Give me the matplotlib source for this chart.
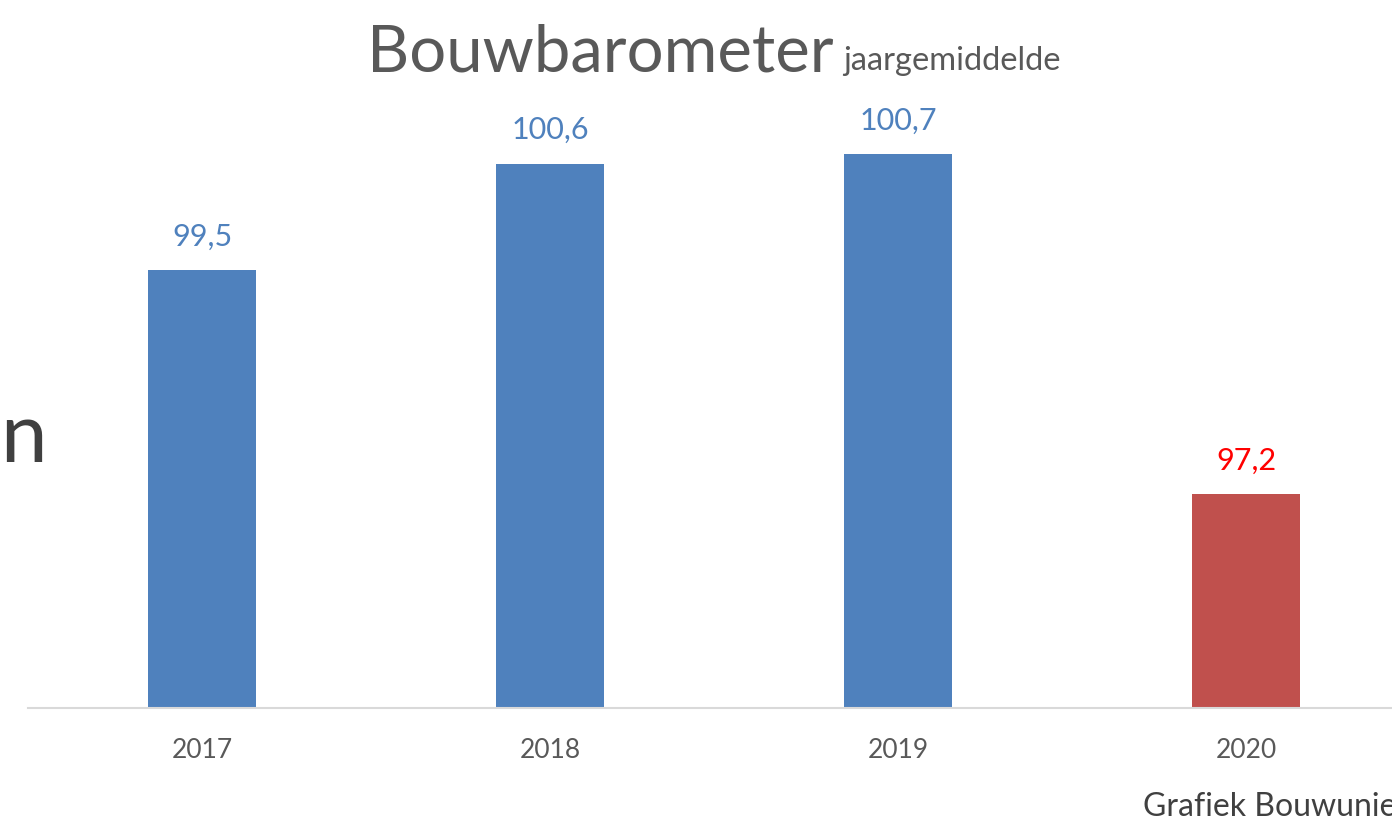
import matplotlib.pyplot as plt

plt.rcParams["font.family"] = ["Lato", "DejaVu Sans"]

# Data
years = ["2017", "2018", "2019", "2020"]
values = [99.5, 100.6, 100.7, 97.2]
labels = ["99,5", "100,6", "100,7", "97,2"]

bar_colors = ["#4F81BD", "#4F81BD", "#4F81BD", "#C0504D"]
label_colors = ["#4F81BD", "#4F81BD", "#4F81BD", "#FF0000"]

fig = plt.figure(figsize=(13.92, 8.2), dpi=100)
ax = fig.add_axes([28 / 1392, 111 / 820, 1392 / 1392, 632 / 820])

base = 95
x = range(len(years))
bars = ax.bar(x, [v - base for v in values], width=0.31, color=bar_colors, bottom=base)
ax.set_ylim(base, 101.5)
ax.set_xlim(-0.5, 3.5)

for i, b in enumerate(bars):
    ax.text(
        b.get_x() + b.get_width() / 2,
        values[i] + 0.21,
        labels[i],
        ha="center",
        va="bottom",
        fontsize=22,
        color=label_colors[i],
    )

ax.set_xticks(list(x))
ax.set_xticklabels(years, fontsize=19, color="#595959")
ax.tick_params(axis="x", length=0, pad=21)
ax.set_yticks([])
for s in ["top", "right", "left"]:
    ax.spines[s].set_visible(False)
ax.spines["bottom"].set_color("#D9D9D9")
ax.spines["bottom"].set_linewidth(1.5)

# title with small subtitle
fig.text(367 / 1392, 1 - 72 / 820, "Bouwbarometer", fontsize=47, color="#595959",
         ha="left", va="baseline")
fig.text(843 / 1392, 1 - 70 / 820, "jaargemiddelde", fontsize=23.5, color="#595959",
         ha="left", va="baseline")

fig.text(0, 1 - 462 / 820, "n", fontsize=60, color="#404040", ha="left", va="baseline")
fig.text(1143 / 1392, 1 - 816 / 820, "Grafiek Bouwunie", fontsize=23, color="#404040",
         ha="left", va="baseline")

plt.savefig("out.png", dpi=100)
